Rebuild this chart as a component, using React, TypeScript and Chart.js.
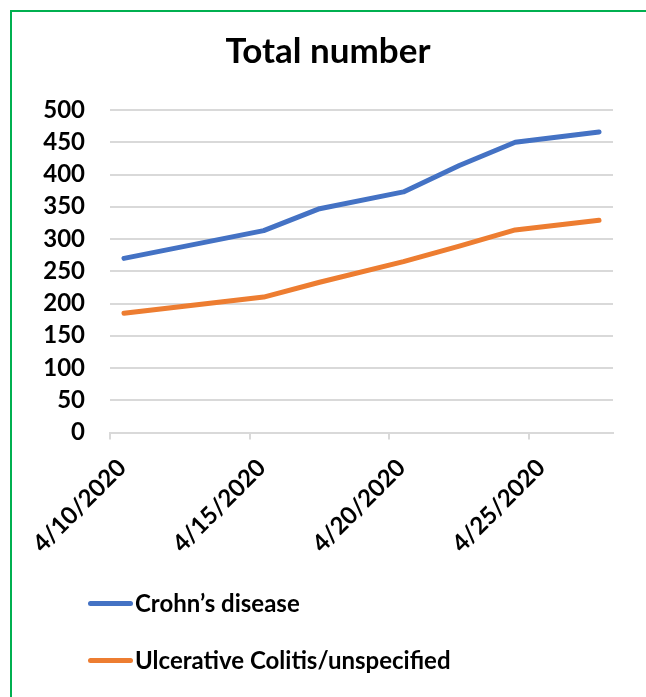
import React, { useEffect, useRef } from 'react';
import { Chart, registerables } from 'chart.js';

Chart.register(...registerables);

// ---- data ----
const dates = ['4/10/2020', '4/15/2020', '4/17/2020', '4/20/2020', '4/22/2020', '4/24/2020', '4/27/2020'];
const crohns = [270, 313, 347, 373, 414, 450, 466];
const ulcerative = [185, 210, 233, 265, 289, 314, 329];
const seriesNames = ['Crohn\u2019s disease', 'Ulcerative Colitis/unspecified'];
const seriesColors = ['#4472C4', '#ED7D31'];
const tickLabels = ['4/10/2020', '4/15/2020', '4/20/2020', '4/25/2020'];
const titleText = 'Total number';
const yMin = 0;
const yMax = 500;
const yStep = 50;

const FONT = 'Lato';

function dayOf(s: string): number {
  const [m, d, y] = s.split('/').map(Number);
  return Date.UTC(y, m - 1, d) / 86400000;
}

export default function App() {
  const ref = useRef<HTMLCanvasElement>(null);

  useEffect(() => {
    const d0 = dayOf(dates[0]);
    const xs = dates.map((d) => dayOf(d) - d0);
    const tickVals = tickLabels.map((t) => dayOf(t) - d0 - 0.5);
    const tickFont = { family: FONT, size: 24, weight: 'bold' as const };
    const series = [crohns, ulcerative];

    const chart = new Chart(ref.current as HTMLCanvasElement, {
      type: 'line',
      data: {
        datasets: series.map((vals, k) => ({
          label: seriesNames[k],
          data: xs.map((x, i) => ({ x, y: vals[i] })),
          borderColor: seriesColors[k],
          backgroundColor: seriesColors[k],
          borderWidth: 5,
          borderCapStyle: 'round',
          borderJoinStyle: 'round',
          pointRadius: 0,
          tension: 0,
        })),
      },
      options: {
        responsive: false,
        animation: false,
        events: [],
        layout: { padding: { left: 43, right: 33, top: 0, bottom: 139 } },
        plugins: {
          title: {
            display: true,
            text: titleText,
            color: '#000',
            font: { family: FONT, size: 35, weight: 'bold' },
            padding: { top: 30.5, bottom: 37.5 },
          },
          legend: { display: false },
          tooltip: { enabled: false },
        },
        scales: {
          x: {
            type: 'linear',
            min: xs[0] - 0.5,
            max: xs[xs.length - 1] + 0.5,
            afterBuildTicks: (s: any) => {
              s.ticks = tickVals.map((v) => ({ value: v }));
            },
            afterFit: (s: any) => {
              s.height = 125.5;
            },
            grid: {
              drawOnChartArea: false,
              drawTicks: true,
              tickLength: 7,
              tickColor: '#D9D9D9',
              tickWidth: 2,
              color: '#D9D9D9',
              lineWidth: 2,
            },
            border: { display: true, color: '#D9D9D9', width: 2 },
            ticks: {
              autoSkip: false,
              minRotation: 45,
              maxRotation: 45,
              labelOffset: 12,
              padding: 14,
              color: '#000',
              font: tickFont,
              callback: (_v: any, i: number) => tickLabels[i],
            },
          },
          y: {
            min: yMin,
            max: yMax,
            afterFit: (s: any) => {
              s.width = 67;
            },
            ticks: { stepSize: yStep, padding: 25, color: '#000', font: tickFont },
            grid: { color: '#D9D9D9', lineWidth: 2, drawTicks: false },
            border: { display: false },
          },
        },
      },
    } as any);
    return () => chart.destroy();
  }, []);

  return (
    <div
      style={{
        position: 'fixed',
        left: 0,
        top: 0,
        width: 646,
        height: 697,
        overflow: 'hidden',
        background: '#fff',
      }}
    >
      <canvas
        ref={ref}
        width={646}
        height={697}
        style={{ position: 'absolute', left: 0, top: 0, display: 'block' }}
      />
      <div style={{ position: 'absolute', left: 88, top: 588 }}>
        {seriesNames.map((name, k) => (
          <div
            key={name}
            style={{
              display: 'flex',
              alignItems: 'center',
              height: 30,
              marginBottom: 27,
              whiteSpace: 'nowrap',
            }}
          >
            <span
              style={{
                display: 'inline-block',
                width: 45,
                height: 5,
                borderRadius: 2.5,
                background: seriesColors[k],
              }}
            />
            <span
              style={{
                marginLeft: 2,
                fontFamily: FONT,
                fontWeight: 'bold',
                fontSize: 24,
                lineHeight: '30px',
                color: '#000',
              }}
            >
              {name}
            </span>
          </div>
        ))}
      </div>
      <div
        style={{
          position: 'absolute',
          left: 10,
          top: 10,
          width: 700,
          height: 700,
          borderLeft: '2px solid #00B050',
          borderTop: '2px solid #00B050',
          pointerEvents: 'none',
        }}
      />
    </div>
  );
}
